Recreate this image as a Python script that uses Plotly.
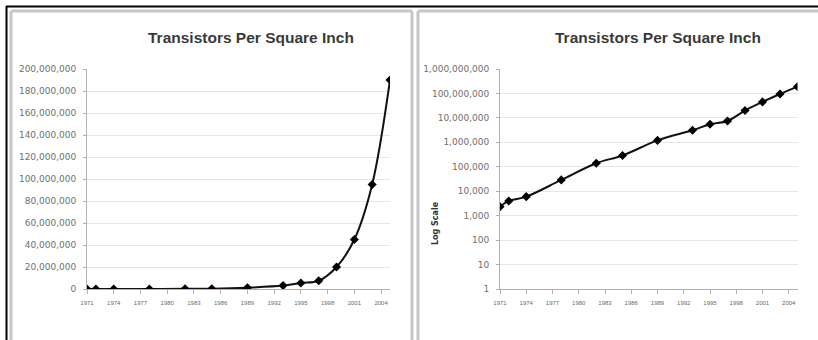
import plotly.graph_objects as go

# ---- data ----
years = [1971, 1972, 1974, 1978, 1982, 1985, 1989, 1993, 1995, 1997, 1999, 2001, 2003, 2005]
transistors = [2300, 4000, 6000, 29000, 140000, 290000, 1200000, 3100000,
               5500000, 7500000, 20000000, 45000000, 95000000, 190000000]
x_ticks = [1971, 1974, 1977, 1980, 1983, 1986, 1989, 1992, 1995, 1998, 2001, 2004]
log_ticks = [1, 10, 100, 1000, 10000, 100000, 1000000, 10000000, 100000000, 1000000000]
log_tick_text = ["1", "10", "100", "1,000", "10,000", "100,000", "1,000,000",
                 "10,000,000", "100,000,000", "1,000,000,000"]
title_text = "Transistors Per Square Inch"
log_axis_title = "Log Scale"

W, H = 818, 340

def px(x):
    return x / W

def py(y):
    return 1 - y / H

fig = go.Figure()

line_style = dict(color="#111111", width=2, shape="spline", smoothing=1)
marker_style = dict(symbol="diamond", size=7, color="#000000")

fig.add_trace(go.Scatter(x=years, y=transistors, mode="lines+markers",
                         line=line_style, marker=marker_style,
                         xaxis="x", yaxis="y", showlegend=False))
fig.add_trace(go.Scatter(x=years, y=transistors, mode="lines+markers",
                         line=line_style, marker=marker_style,
                         xaxis="x2", yaxis="y2", showlegend=False))

tick_font = dict(family="DejaVu Sans", size=9, color="#707070")
xtick_font = dict(family="Liberation Sans", size=6, color="#6a6a6a")

common_x = dict(range=[1971, 2005], tickmode="array", tickvals=x_ticks,
                ticktext=[str(v) for v in x_ticks], automargin=False,
                showgrid=False, zeroline=False, showline=True,
                linecolor="#b0b0b0", linewidth=1, ticks="outside", ticklen=4,
                tickcolor="#b0b0b0", tickfont=xtick_font, ticklabelstandoff=4)
common_y = dict(showgrid=True, gridcolor="#e6e6e6", gridwidth=1, zeroline=False,
                showline=True, linecolor="#b0b0b0", linewidth=1, automargin=False,
                ticks="outside", ticklen=3, tickcolor="#b0b0b0",
                tickfont=tick_font, ticklabelstandoff=5)

y_dom = [py(289), py(69)]

fig.update_layout(
    template="none",
    width=W, height=H,
    margin=dict(l=0, r=0, t=0, b=0, pad=0, autoexpand=False),
    paper_bgcolor="white", plot_bgcolor="white",
    xaxis=dict(domain=[px(87), px(390)], anchor="y", **common_x),
    yaxis=dict(domain=y_dom, anchor="x", range=[0, 200000000],
               dtick=20000000, tickformat=",", **common_y),
    xaxis2=dict(domain=[px(500), px(797.5)], anchor="y2", **common_x),
    yaxis2=dict(domain=y_dom, anchor="x2", type="log", range=[0, 9],
                tickmode="array", tickvals=log_ticks, ticktext=log_tick_text,
                **common_y),
)

title_font = dict(family="Liberation Sans", size=15.5, color="#3a3a3a")
fig.add_annotation(x=px(251), y=py(37), xref="paper", yref="paper",
                   text="<b>" + title_text + "</b>", showarrow=False,
                   font=title_font, xanchor="center", yanchor="middle")
fig.add_annotation(x=px(658), y=py(37), xref="paper", yref="paper",
                   text="<b>" + title_text + "</b>", showarrow=False,
                   font=title_font, xanchor="center", yanchor="middle")
fig.add_annotation(x=px(435), y=py(223), xref="paper", yref="paper",
                   text="<b>" + log_axis_title + "</b>", showarrow=False,
                   textangle=-90,
                   font=dict(family="DejaVu Sans", size=8, color="#333333"),
                   xanchor="center", yanchor="middle")

# frame lines (window/panel borders)
shapes = []
shapes.append(dict(type="line", xref="paper", yref="paper",
                   x0=px(6), x1=1, y0=py(6.5), y1=py(6.5),
                   line=dict(color="#000000", width=2)))
shapes.append(dict(type="line", xref="paper", yref="paper",
                   x0=px(6.5), x1=px(6.5), y0=py(6), y1=0,
                   line=dict(color="#000000", width=2)))
gray = dict(color="#c6c6c6", width=3)
# left panel
shapes.append(dict(type="line", xref="paper", yref="paper",
                   x0=px(11), x1=px(412), y0=py(11), y1=py(11), line=gray))
shapes.append(dict(type="line", xref="paper", yref="paper",
                   x0=px(11), x1=px(11), y0=py(11), y1=0, line=gray))
shapes.append(dict(type="line", xref="paper", yref="paper",
                   x0=px(412), x1=px(412), y0=py(11), y1=0, line=gray))
# right panel
shapes.append(dict(type="line", xref="paper", yref="paper",
                   x0=px(418), x1=1, y0=py(11), y1=py(11), line=gray))
shapes.append(dict(type="line", xref="paper", yref="paper",
                   x0=px(418), x1=px(418), y0=py(11), y1=0, line=gray))
fig.update_layout(shapes=shapes)

fig.write_html(
    "out.html",
    config={"displayModeBar": False},
    post_script="document.body.style.margin='0px';document.body.style.padding='0px';"
                "document.documentElement.style.overflow='hidden';",
)
